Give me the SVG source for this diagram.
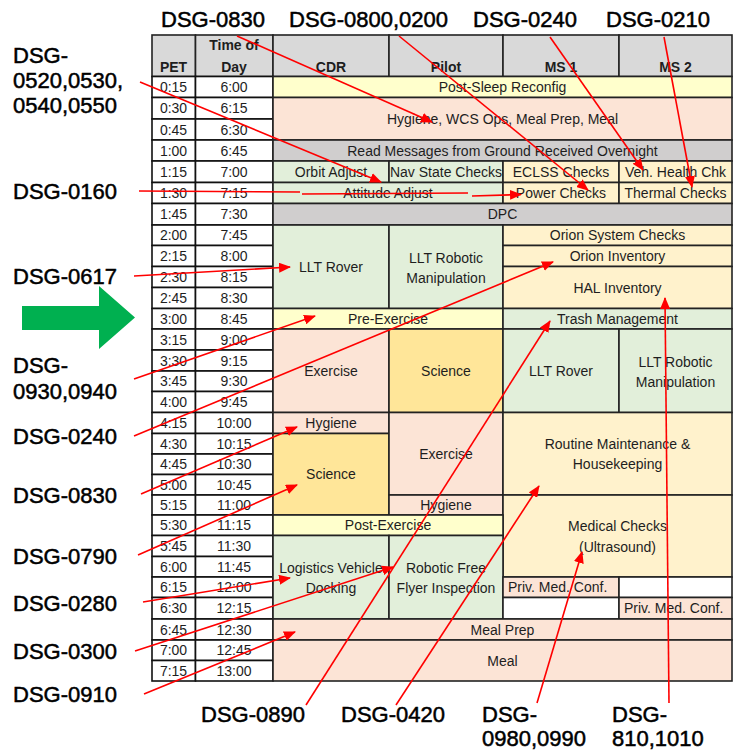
<svg xmlns="http://www.w3.org/2000/svg" width="733" height="750" viewBox="0 0 733 750">
<defs>
<marker id="ah" markerUnits="userSpaceOnUse" markerWidth="12" markerHeight="10" refX="11" refY="5" orient="auto">
<path d="M0,0 L12,5 L0,10 z" fill="#ff0000"/>
</marker>
</defs>
<style>
.t{font-family:"Liberation Sans",Arial,sans-serif;font-size:14px;fill:#1e1e1e;text-anchor:middle}
.l{text-anchor:start}
.b{font-weight:bold}
.lbl{font-family:"Liberation Sans",Arial,sans-serif;font-size:22px;fill:#000;stroke:#000;stroke-width:0.5}
.c{stroke:#222;stroke-width:1.6}
.g{stroke:#111;stroke-width:1.6;fill:#fff}
.hd{fill:#d9d9d9}
.yel{fill:#ffffcc}
.pnk{fill:#fce4d6}
.gry{fill:#d0cece}
.grn{fill:#e2efda}
.org{fill:#fff2cc}
.sci{fill:#ffe699}
.wht{fill:#ffffff}
#connectors line,#connectors path{stroke:#ff0000;stroke-width:1.6;fill:none;marker-end:url(#ah)}
</style>
<rect width="733" height="750" fill="#ffffff"/>

<!-- header -->
<g id="header">
<rect class="c hd" x="152" y="35" width="43.5" height="41.5"/>
<rect class="c hd" x="195.5" y="35" width="77.5" height="41.5"/>
<rect class="c hd" x="273" y="35" width="116" height="41.5"/>
<rect class="c hd" x="389" y="35" width="114" height="41.5"/>
<rect class="c hd" x="503" y="35" width="116" height="41.5"/>
<rect class="c hd" x="619" y="35" width="113" height="41.5"/>
<text class="t b" x="173.5" y="72">PET</text>
<text class="t b" x="234" y="50">Time of</text>
<text class="t b" x="234" y="72">Day</text>
<text class="t b" x="331" y="72">CDR</text>
<text class="t b" x="446" y="72">Pilot</text>
<text class="t b" x="561" y="72">MS 1</text>
<text class="t b" x="675.5" y="72">MS 2</text>
</g>

<!-- time grid -->
<g id="timegrid">
<rect class="g" x="152" y="76.5" width="43.5" height="21"/><rect class="g" x="195.5" y="76.5" width="77.5" height="21"/>
<text class="t" x="173.5" y="92">0:15</text><text class="t" x="234" y="92">6:00</text>
<rect class="g" x="152" y="97.5" width="43.5" height="21.5"/><rect class="g" x="195.5" y="97.5" width="77.5" height="21.5"/>
<text class="t" x="173.5" y="113.25">0:30</text><text class="t" x="234" y="113.25">6:15</text>
<rect class="g" x="152" y="119" width="43.5" height="21"/><rect class="g" x="195.5" y="119" width="77.5" height="21"/>
<text class="t" x="173.5" y="134.5">0:45</text><text class="t" x="234" y="134.5">6:30</text>
<rect class="g" x="152" y="140" width="43.5" height="21"/><rect class="g" x="195.5" y="140" width="77.5" height="21"/>
<text class="t" x="173.5" y="155.5">1:00</text><text class="t" x="234" y="155.5">6:45</text>
<rect class="g" x="152" y="161" width="43.5" height="21.5"/><rect class="g" x="195.5" y="161" width="77.5" height="21.5"/>
<text class="t" x="173.5" y="176.75">1:15</text><text class="t" x="234" y="176.75">7:00</text>
<rect class="g" x="152" y="182.5" width="43.5" height="21"/><rect class="g" x="195.5" y="182.5" width="77.5" height="21"/>
<text class="t" x="173.5" y="198">1:30</text><text class="t" x="234" y="198">7:15</text>
<rect class="g" x="152" y="203.5" width="43.5" height="21.5"/><rect class="g" x="195.5" y="203.5" width="77.5" height="21.5"/>
<text class="t" x="173.5" y="219.25">1:45</text><text class="t" x="234" y="219.25">7:30</text>
<rect class="g" x="152" y="225" width="43.5" height="20.5"/><rect class="g" x="195.5" y="225" width="77.5" height="20.5"/>
<text class="t" x="173.5" y="240.25">2:00</text><text class="t" x="234" y="240.25">7:45</text>
<rect class="g" x="152" y="245.5" width="43.5" height="21"/><rect class="g" x="195.5" y="245.5" width="77.5" height="21"/>
<text class="t" x="173.5" y="261">2:15</text><text class="t" x="234" y="261">8:00</text>
<rect class="g" x="152" y="266.5" width="43.5" height="21"/><rect class="g" x="195.5" y="266.5" width="77.5" height="21"/>
<text class="t" x="173.5" y="282">2:30</text><text class="t" x="234" y="282">8:15</text>
<rect class="g" x="152" y="287.5" width="43.5" height="21"/><rect class="g" x="195.5" y="287.5" width="77.5" height="21"/>
<text class="t" x="173.5" y="303">2:45</text><text class="t" x="234" y="303">8:30</text>
<rect class="g" x="152" y="308.5" width="43.5" height="20.5"/><rect class="g" x="195.5" y="308.5" width="77.5" height="20.5"/>
<text class="t" x="173.5" y="323.75">3:00</text><text class="t" x="234" y="323.75">8:45</text>
<rect class="g" x="152" y="329" width="43.5" height="21"/><rect class="g" x="195.5" y="329" width="77.5" height="21"/>
<text class="t" x="173.5" y="344.5">3:15</text><text class="t" x="234" y="344.5">9:00</text>
<rect class="g" x="152" y="350" width="43.5" height="21"/><rect class="g" x="195.5" y="350" width="77.5" height="21"/>
<text class="t" x="173.5" y="365.5">3:30</text><text class="t" x="234" y="365.5">9:15</text>
<rect class="g" x="152" y="371" width="43.5" height="20.5"/><rect class="g" x="195.5" y="371" width="77.5" height="20.5"/>
<text class="t" x="173.5" y="386.25">3:45</text><text class="t" x="234" y="386.25">9:30</text>
<rect class="g" x="152" y="391.5" width="43.5" height="21"/><rect class="g" x="195.5" y="391.5" width="77.5" height="21"/>
<text class="t" x="173.5" y="407">4:00</text><text class="t" x="234" y="407">9:45</text>
<rect class="g" x="152" y="412.5" width="43.5" height="21"/><rect class="g" x="195.5" y="412.5" width="77.5" height="21"/>
<text class="t" x="173.5" y="428">4:15</text><text class="t" x="234" y="428">10:00</text>
<rect class="g" x="152" y="433.5" width="43.5" height="20.5"/><rect class="g" x="195.5" y="433.5" width="77.5" height="20.5"/>
<text class="t" x="173.5" y="448.75">4:30</text><text class="t" x="234" y="448.75">10:15</text>
<rect class="g" x="152" y="454" width="43.5" height="20.5"/><rect class="g" x="195.5" y="454" width="77.5" height="20.5"/>
<text class="t" x="173.5" y="469.25">4:45</text><text class="t" x="234" y="469.25">10:30</text>
<rect class="g" x="152" y="474.5" width="43.5" height="20.5"/><rect class="g" x="195.5" y="474.5" width="77.5" height="20.5"/>
<text class="t" x="173.5" y="489.75">5:00</text><text class="t" x="234" y="489.75">10:45</text>
<rect class="g" x="152" y="495" width="43.5" height="20"/><rect class="g" x="195.5" y="495" width="77.5" height="20"/>
<text class="t" x="173.5" y="510">5:15</text><text class="t" x="234" y="510">11:00</text>
<rect class="g" x="152" y="515" width="43.5" height="20.5"/><rect class="g" x="195.5" y="515" width="77.5" height="20.5"/>
<text class="t" x="173.5" y="530.25">5:30</text><text class="t" x="234" y="530.25">11:15</text>
<rect class="g" x="152" y="535.5" width="43.5" height="21"/><rect class="g" x="195.5" y="535.5" width="77.5" height="21"/>
<text class="t" x="173.5" y="551">5:45</text><text class="t" x="234" y="551">11:30</text>
<rect class="g" x="152" y="556.5" width="43.5" height="20.5"/><rect class="g" x="195.5" y="556.5" width="77.5" height="20.5"/>
<text class="t" x="173.5" y="571.75">6:00</text><text class="t" x="234" y="571.75">11:45</text>
<rect class="g" x="152" y="577" width="43.5" height="20.5"/><rect class="g" x="195.5" y="577" width="77.5" height="20.5"/>
<text class="t" x="173.5" y="592.25">6:15</text><text class="t" x="234" y="592.25">12:00</text>
<rect class="g" x="152" y="597.5" width="43.5" height="21.5"/><rect class="g" x="195.5" y="597.5" width="77.5" height="21.5"/>
<text class="t" x="173.5" y="613.25">6:30</text><text class="t" x="234" y="613.25">12:15</text>
<rect class="g" x="152" y="619" width="43.5" height="21"/><rect class="g" x="195.5" y="619" width="77.5" height="21"/>
<text class="t" x="173.5" y="634.5">6:45</text><text class="t" x="234" y="634.5">12:30</text>
<rect class="g" x="152" y="640" width="43.5" height="20.5"/><rect class="g" x="195.5" y="640" width="77.5" height="20.5"/>
<text class="t" x="173.5" y="655.25">7:00</text><text class="t" x="234" y="655.25">12:45</text>
<rect class="g" x="152" y="660.5" width="43.5" height="20.5"/><rect class="g" x="195.5" y="660.5" width="77.5" height="20.5"/>
<text class="t" x="173.5" y="675.75">7:15</text><text class="t" x="234" y="675.75">13:00</text>
</g>

<!-- activity cells -->
<g id="post-sleep"><rect class="c yel" x="273" y="76.5" width="459" height="21"/><text class="t" x="502.5" y="92">Post-Sleep Reconfig</text></g>
<g id="hygiene-wcs"><rect class="c pnk" x="273" y="97.5" width="459" height="42.5"/><text class="t" x="502.5" y="123.75">Hygiene, WCS Ops, Meal Prep, Meal</text></g>
<g id="read-messages"><rect class="c gry" x="273" y="140" width="459" height="21"/><text class="t" x="502.5" y="155.5">Read Messages from Ground Received Overnight</text></g>
<g id="orbit-adjust"><rect class="c grn" x="273" y="161" width="116" height="21.5"/><text class="t" x="331" y="176.75">Orbit Adjust</text></g>
<g id="nav-state"><rect class="c grn" x="389" y="161" width="114" height="21.5"/><text class="t" x="446" y="176.75">Nav State Checks</text></g>
<g id="eclss"><rect class="c org" x="503" y="161" width="116" height="21.5"/><text class="t" x="561" y="176.75">ECLSS Checks</text></g>
<g id="veh-health"><rect class="c org" x="619" y="161" width="113" height="21.5"/><text class="t" x="675.5" y="176.75">Veh. Health Chk</text></g>
<g id="attitude-adjust"><rect class="c grn" x="273" y="182.5" width="230" height="21"/><text class="t" x="388" y="198">Attitude Adjust</text></g>
<g id="power-checks"><rect class="c org" x="503" y="182.5" width="116" height="21"/><text class="t" x="561" y="198">Power Checks</text></g>
<g id="thermal-checks"><rect class="c org" x="619" y="182.5" width="113" height="21"/><text class="t" x="675.5" y="198">Thermal Checks</text></g>
<g id="dpc"><rect class="c gry" x="273" y="203.5" width="459" height="21.5"/><text class="t" x="502.5" y="219.25">DPC</text></g>
<g id="llt-rover-cdr"><rect class="c grn" x="273" y="225" width="116" height="83.5"/><text class="t" x="331" y="271.75">LLT Rover</text></g>
<g id="llt-robotic-pilot"><rect class="c grn" x="389" y="225" width="114" height="83.5"/><text class="t" x="446" y="262.5">LLT Robotic</text><text class="t" x="446" y="282.5">Manipulation</text></g>
<g id="orion-system"><rect class="c org" x="503" y="225" width="229" height="20.5"/><text class="t" x="617.5" y="240.25">Orion System Checks</text></g>
<g id="orion-inventory"><rect class="c org" x="503" y="245.5" width="229" height="21"/><text class="t" x="617.5" y="261">Orion Inventory</text></g>
<g id="hal-inventory"><rect class="c org" x="503" y="266.5" width="229" height="42"/><text class="t" x="617.5" y="292.5">HAL Inventory</text></g>
<g id="pre-exercise"><rect class="c yel" x="273" y="308.5" width="230" height="20.5"/><text class="t" x="388" y="323.75">Pre-Exercise</text></g>
<g id="trash"><rect class="c grn" x="503" y="308.5" width="229" height="20.5"/><text class="t" x="617.5" y="323.75">Trash Management</text></g>
<g id="exercise-cdr"><rect class="c pnk" x="273" y="329" width="116" height="83.5"/><text class="t" x="331" y="375.75">Exercise</text></g>
<g id="science-pilot"><rect class="c sci" x="389" y="329" width="114" height="83.5"/><text class="t" x="446" y="375.75">Science</text></g>
<g id="llt-rover-ms1"><rect class="c grn" x="503" y="329" width="116" height="83.5"/><text class="t" x="561" y="375.75">LLT Rover</text></g>
<g id="llt-robotic-ms2"><rect class="c grn" x="619" y="329" width="113" height="83.5"/><text class="t" x="675.5" y="366.5">LLT Robotic</text><text class="t" x="675.5" y="386.5">Manipulation</text></g>
<g id="hygiene-cdr"><rect class="c pnk" x="273" y="412.5" width="116" height="21"/><text class="t" x="331" y="428">Hygiene</text></g>
<g id="science-cdr"><rect class="c sci" x="273" y="433.5" width="116" height="81.5"/><text class="t" x="331" y="479.25">Science</text></g>
<g id="exercise-pilot"><rect class="c pnk" x="389" y="412.5" width="114" height="82.5"/><text class="t" x="446" y="458.75">Exercise</text></g>
<g id="hygiene-pilot"><rect class="c pnk" x="389" y="495" width="114" height="20"/><text class="t" x="446" y="510">Hygiene</text></g>
<g id="routine-maint"><rect class="c org" x="503" y="412.5" width="229" height="82.5"/><text class="t" x="617.5" y="448.75">Routine Maintenance &amp;</text><text class="t" x="617.5" y="469.25">Housekeeping</text></g>
<g id="medical-checks"><rect class="c org" x="503" y="495" width="229" height="82"/><text class="t" x="617.5" y="531">Medical Checks</text><text class="t" x="617.5" y="551.5">(Ultrasound)</text></g>
<g id="post-exercise"><rect class="c yel" x="273" y="515" width="230" height="20.5"/><text class="t" x="388" y="530.25">Post-Exercise</text></g>
<g id="logistics"><rect class="c grn" x="273" y="535.5" width="116" height="83.5"/><text class="t" x="331" y="573">Logistics Vehicle</text><text class="t" x="331" y="593">Docking</text></g>
<g id="free-flyer"><rect class="c grn" x="389" y="535.5" width="114" height="83.5"/><text class="t" x="446" y="573">Robotic Free</text><text class="t" x="446" y="593">Flyer Inspection</text></g>
<g id="priv-med-ms1"><rect class="c pnk" x="503" y="577" width="116" height="20.5"/><text class="t l" x="508" y="592.25">Priv. Med. Conf.</text></g>
<g id="blank-ms2"><rect class="c wht" x="619" y="577" width="113" height="20.5"/></g>
<g id="blank-ms1"><rect class="c wht" x="503" y="597.5" width="116" height="21.5"/></g>
<g id="priv-med-ms2"><rect class="c pnk" x="619" y="597.5" width="113" height="21.5"/><text class="t l" x="624" y="613.25">Priv. Med. Conf.</text></g>
<g id="meal-prep"><rect class="c pnk" x="273" y="619" width="459" height="21"/><text class="t" x="502.5" y="634.5">Meal Prep</text></g>
<g id="meal"><rect class="c pnk" x="273" y="640" width="459" height="41"/><text class="t" x="502.5" y="665.5">Meal</text></g>

<!-- labels -->
<g id="labels">
<text class="lbl" x="161" y="27">DSG-0830</text>
<text class="lbl" x="289" y="27">DSG-0800,0200</text>
<text class="lbl" x="473" y="27">DSG-0240</text>
<text class="lbl" x="606" y="27">DSG-0210</text>
<text class="lbl" x="13" y="63">DSG-</text>
<text class="lbl" x="13" y="88">0520,0530,</text>
<text class="lbl" x="13" y="113">0540,0550</text>
<text class="lbl" x="13" y="199">DSG-0160</text>
<text class="lbl" x="13" y="284">DSG-0617</text>
<text class="lbl" x="13" y="373">DSG-</text>
<text class="lbl" x="13" y="399">0930,0940</text>
<text class="lbl" x="13" y="444">DSG-0240</text>
<text class="lbl" x="13" y="503">DSG-0830</text>
<text class="lbl" x="13" y="564">DSG-0790</text>
<text class="lbl" x="13" y="611">DSG-0280</text>
<text class="lbl" x="13" y="659">DSG-0300</text>
<text class="lbl" x="13" y="702">DSG-0910</text>
<text class="lbl" x="201" y="722">DSG-0890</text>
<text class="lbl" x="341" y="722">DSG-0420</text>
<text class="lbl" x="482" y="722">DSG-</text>
<text class="lbl" x="482" y="746">0980,0990</text>
<text class="lbl" x="612" y="722">DSG-</text>
<text class="lbl" x="612" y="746">810,1010</text>
</g>

<g id="green-arrow">
<polygon points="22,306 99,306 99,286 135,317.5 99,349 99,330 22,330" fill="#00b050"/>
</g>

<g id="connectors">
<line x1="237" y1="36" x2="432" y2="122"/>
<line x1="399" y1="36" x2="588" y2="190"/>
<line x1="550" y1="37" x2="643" y2="170"/>
<line x1="664" y1="37" x2="692" y2="187"/>
<line x1="140" y1="82" x2="381" y2="182"/>
<path d="M139,191 L300,192 M302,194 L468,193 M472,196 L521,194.5"/>
<line x1="134" y1="276" x2="290" y2="267"/>
<line x1="134" y1="379" x2="315" y2="316"/>
<line x1="134" y1="436" x2="553" y2="262"/>
<line x1="141" y1="494" x2="297" y2="427"/>
<line x1="138" y1="555" x2="297" y2="485"/>
<line x1="143" y1="602" x2="290" y2="578"/>
<line x1="135" y1="651" x2="393" y2="567"/>
<line x1="144" y1="694" x2="295" y2="632"/>
<line x1="306" y1="705" x2="550" y2="321"/>
<line x1="396" y1="705" x2="539" y2="486"/>
<line x1="537" y1="703" x2="582" y2="552"/>
<line x1="669" y1="703" x2="665" y2="298"/>
</g>
</svg>
